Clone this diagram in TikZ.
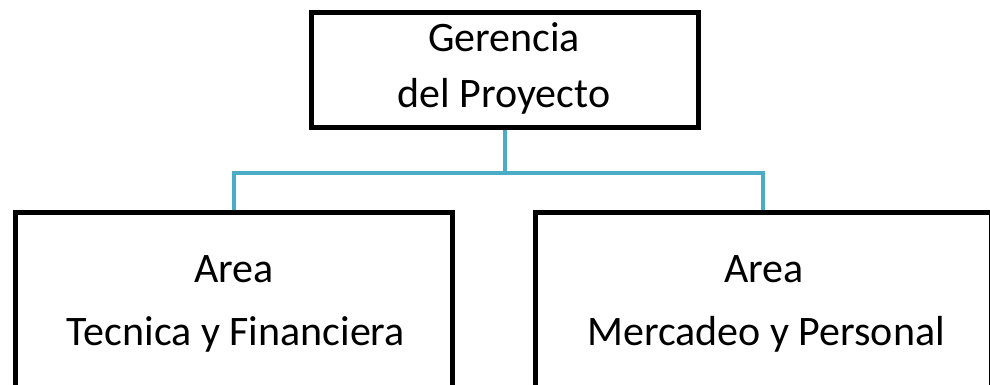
\documentclass[tikz,border=0pt]{standalone}
\usepackage{fontspec}
\setmainfont{Carlito}
\usetikzlibrary{backgrounds}
\definecolor{connblue}{HTML}{4BACC6}
\begin{document}
\begin{tikzpicture}[x=1pt,y=-1pt,
  box/.style={draw=black,line width=5pt,rectangle,inner sep=0pt,outer sep=0pt},
  conn/.style={draw=connblue,line width=4pt},
  lbl/.style={anchor=base,inner sep=0pt,font=\fontsize{42}{48}\selectfont}]
\useasboundingbox (0,0) rectangle (990,385);
\clip (0,0) rectangle (990,385);
\node[box,minimum width=387pt,minimum height=115pt] (top) at (504.5,70.5) {};
\node[box,minimum width=437pt,minimum height=220pt,anchor=north west] (left) at (15,212) {};
\node[box,minimum width=456pt,minimum height=220pt,anchor=north west] (right) at (535,212) {};
\coordinate (mid) at (505,173);
\begin{pgfonlayer}{background}
\draw[conn] (top.south) -- (top.south |- mid);
\draw[conn] (left.north) |- (mid) -| (right.north);
\end{pgfonlayer}
\node[lbl] (t1) at (504,52) {Gerencia};
\node[lbl] (t2) at (504,108) {del Proyecto};
\node[lbl] (l1) at (234,282) {Area};
\node[lbl] (l2) at (236,345) {Tecnica y Financiera};
\node[lbl] (r1) at (764,282) {Area};
\node[lbl] (r2) at (766,345) {Mercadeo y Personal};
\end{tikzpicture}
\end{document}
